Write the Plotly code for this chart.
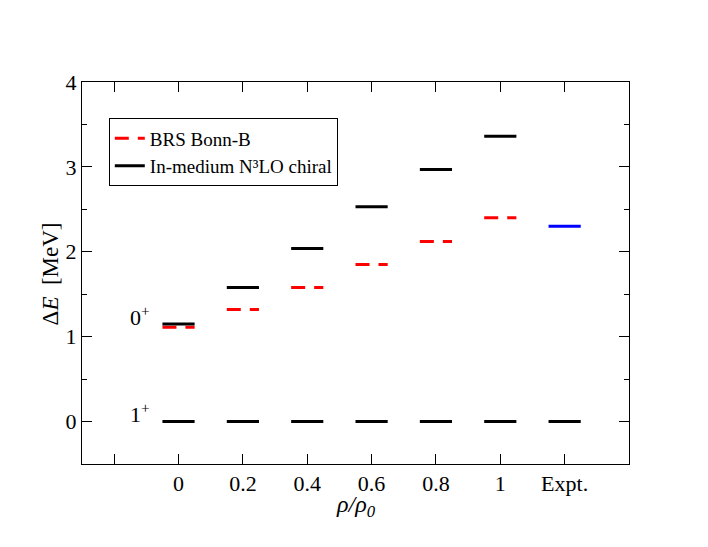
import plotly.graph_objects as go

densities = [0.0, 0.2, 0.4, 0.6, 0.8, 1.0]
bonn_b_0plus = [1.11, 1.32, 1.58, 1.85, 2.12, 2.40]
chiral_0plus = [1.15, 1.58, 2.04, 2.53, 2.97, 3.36]
ground_1plus = [0.0, 0.0, 0.0, 0.0, 0.0, 0.0]
expt_x = 1.2
expt_0plus = 2.30
expt_1plus = 0.0
tick_vals = [-0.2, 0.0, 0.2, 0.4, 0.6, 0.8, 1.0, 1.2]
tick_text = ["", "0", "0.2", "0.4", "0.6", "0.8", "1", "Expt."]

HALF = 0.05


def segs(xs, ys):
    X, Y = [], []
    for x, y in zip(xs, ys):
        X += [x - HALF, x + HALF, None]
        Y += [y, y, None]
    return X, Y


FONT = "Liberation Serif"
fig = go.Figure()

bx, by = segs(densities, bonn_b_0plus)
fig.add_trace(go.Scatter(x=bx, y=by, mode="lines", name="BRS Bonn-B",
                         line=dict(color="red", width=3, dash="14px,9px")))
cx, cy = segs(densities, chiral_0plus)
fig.add_trace(go.Scatter(x=cx, y=cy, mode="lines", name="In-medium N³LO chiral",
                         line=dict(color="black", width=3)))
gx, gy = segs(densities + [expt_x], ground_1plus + [expt_1plus])
fig.add_trace(go.Scatter(x=gx, y=gy, mode="lines", showlegend=False,
                         line=dict(color="black", width=3)))
ex, ey = segs([expt_x], [expt_0plus])
fig.add_trace(go.Scatter(x=ex, y=ey, mode="lines", showlegend=False,
                         line=dict(color="blue", width=3)))

fig.add_annotation(x=-0.12, y=1.24, xref="x", yref="y", text="0<sup>+</sup>",
                   showarrow=False, font=dict(family=FONT, size=22, color="black"))
fig.add_annotation(x=-0.12, y=0.10, xref="x", yref="y", text="1<sup>+</sup>",
                   showarrow=False, font=dict(family=FONT, size=22, color="black"))
# axis titles
fig.add_annotation(x=0.5, y=-0.11, xref="paper", yref="paper", text="<i>ρ/ρ<sub>0</sub></i>",
                   showarrow=False, xanchor="center", yanchor="middle",
                   font=dict(family=FONT, size=24, color="black"))
fig.add_annotation(x=-0.058, y=0.497, xref="paper", yref="paper", text="Δ<i>E</i>  [MeV]",
                   showarrow=False, xanchor="center", yanchor="middle", textangle=-90,
                   font=dict(family=FONT, size=23, color="black"))

fig.update_layout(
    width=708, height=547,
    margin=dict(l=74, r=87, t=74, b=91),
    paper_bgcolor="white", plot_bgcolor="white",
    font=dict(family=FONT, size=22, color="black"),
    showlegend=True,
    legend=dict(x=0.049, y=0.905, xanchor="left", yanchor="top",
                bordercolor="black", borderwidth=1, bgcolor="white",
                font=dict(family=FONT, size=19), tracegroupgap=0,
                itemwidth=30),
    xaxis=dict(range=[-0.3, 1.4], tickmode="array", tickvals=tick_vals, ticktext=tick_text,
               ticks="inside", ticklen=10, tickwidth=1, tickcolor="black",
               showline=True, linecolor="black", linewidth=1, mirror="ticks",
               showgrid=False, zeroline=False),
    yaxis=dict(range=[-0.5, 4.0], tickmode="array", tickvals=[0, 1, 2, 3, 4],
               ticks="inside", ticklen=10, tickwidth=1, tickcolor="black",
               showline=True, linecolor="black", linewidth=1, mirror="ticks",
               showgrid=False, zeroline=False,
               minor=dict(tickvals=[-0.5, 0.5, 1.5, 2.5, 3.5], ticks="inside", ticklen=5,
                          tickcolor="black", tickwidth=1, showgrid=False)),
)

fig.write_html("out.html")
